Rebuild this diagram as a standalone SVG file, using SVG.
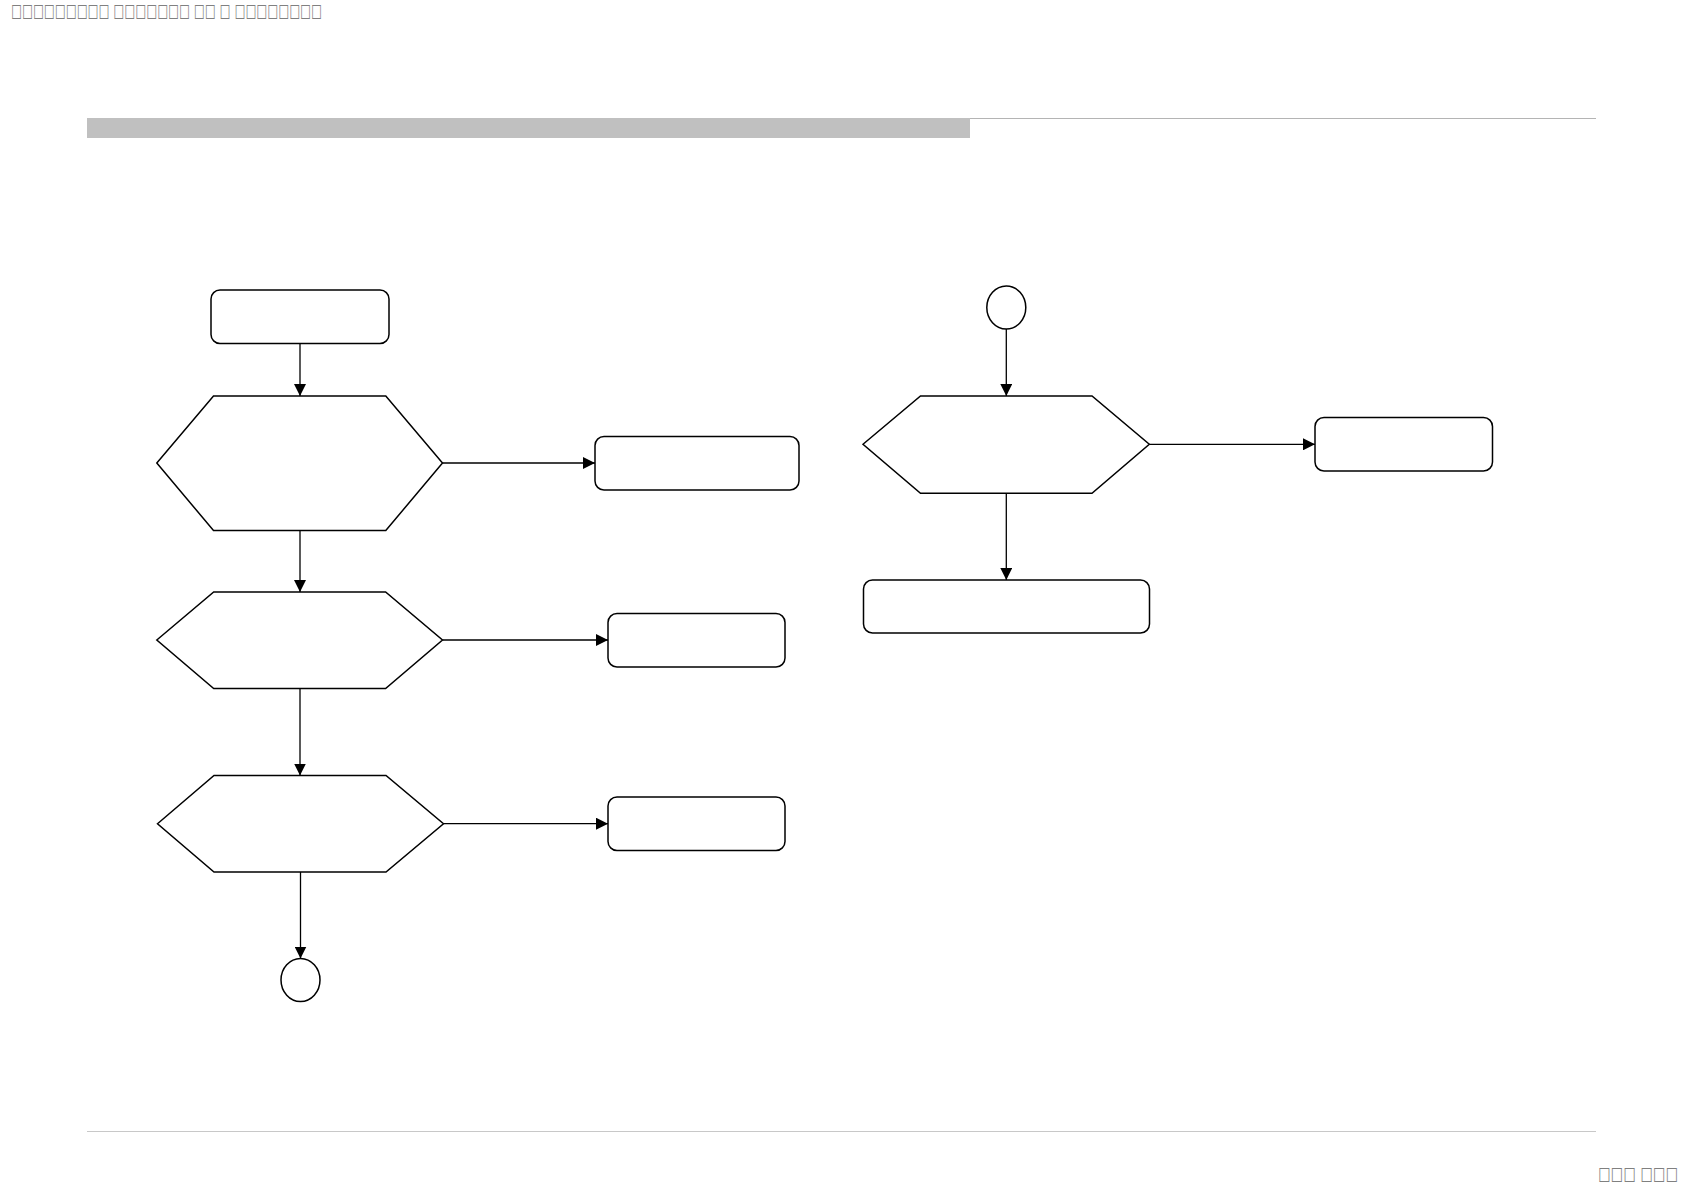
<svg xmlns="http://www.w3.org/2000/svg" width="1684" height="1191" viewBox="0 0 1684 1191">
<style>
.node{fill:#ffffff;stroke:#000000;stroke-width:1.5}
.conn{fill:none;stroke:#000000;stroke-width:1.3}
.hdr{font-family:"DejaVu Sans","Liberation Sans",sans-serif;font-size:19px;fill:#808080}
</style>
<defs>
<marker id="arr" viewBox="0 0 12 12" refX="12" refY="6" markerWidth="12" markerHeight="12" markerUnits="userSpaceOnUse" orient="auto">
<path d="M0,0 L12,6 L0,12 Z" fill="#000000"/>
</marker>
</defs>
<rect width="1684" height="1191" fill="#ffffff"/>
<g id="header">
<rect x="87" y="118" width="883" height="20" fill="#c0c0c0"/>
<line x1="970" y1="118.5" x2="1596" y2="118.5" stroke="#b4b4b4" stroke-width="1.2"/>
<line x1="87" y1="1131.5" x2="1596" y2="1131.5" stroke="#c8c8c8" stroke-width="1"/>
<text class="hdr" x="11" y="19" textLength="311" lengthAdjust="spacingAndGlyphs">☐☐☐☐☐☐☐☐☐ ☐☐☐☐☐☐☐ ☐☐ ☐ ☐☐☐☐☐☐☐☐</text>
<text class="hdr" x="1678" y="1182" text-anchor="end" textLength="80" lengthAdjust="spacingAndGlyphs">☐☐☐ ☐☐☐</text>
</g>
<g id="connectors">
<line class="conn" x1="300" y1="343.5" x2="300" y2="396" marker-end="url(#arr)"/>
<line class="conn" x1="442.5" y1="463" x2="595" y2="463" marker-end="url(#arr)"/>
<line class="conn" x1="300" y1="530.5" x2="300" y2="592" marker-end="url(#arr)"/>
<line class="conn" x1="442.5" y1="640" x2="608" y2="640" marker-end="url(#arr)"/>
<line class="conn" x1="300" y1="688.5" x2="300" y2="775.5" marker-end="url(#arr)"/>
<line class="conn" x1="443.5" y1="823.7" x2="608" y2="823.7" marker-end="url(#arr)"/>
<line class="conn" x1="300.5" y1="872" x2="300.5" y2="958.5" marker-end="url(#arr)"/>
<line class="conn" x1="1006.3" y1="329" x2="1006.3" y2="396" marker-end="url(#arr)"/>
<line class="conn" x1="1149.3" y1="444.3" x2="1315" y2="444.3" marker-end="url(#arr)"/>
<line class="conn" x1="1006.3" y1="493.3" x2="1006.3" y2="580" marker-end="url(#arr)"/>
</g>
<g id="start">
<rect class="node" x="211" y="290" width="178" height="53.5" rx="9"/>
</g>
<g id="decision1">
<polygon class="node" points="156.8,463 213.5,396 385.8,396 442.5,463 385.8,530.5 213.5,530.5"/>
</g>
<g id="box1">
<rect class="node" x="595" y="436.5" width="204" height="53.5" rx="9"/>
</g>
<g id="decision2">
<polygon class="node" points="156.8,640 213.7,592 385.6,592 442.5,640 385.6,688.5 213.7,688.5"/>
</g>
<g id="box2">
<rect class="node" x="608" y="613.5" width="177" height="53.5" rx="9"/>
</g>
<g id="decision3">
<polygon class="node" points="157.5,823.7 214,775.5 386,775.5 443.5,823.7 386,872 214,872"/>
</g>
<g id="box3">
<rect class="node" x="608" y="797" width="177" height="53.5" rx="9"/>
</g>
<g id="end">
<ellipse class="node" cx="300.5" cy="980" rx="19.5" ry="21.5"/>
</g>
<g id="connector-in">
<ellipse class="node" cx="1006.3" cy="307.5" rx="19.5" ry="21.5"/>
</g>
<g id="decision4">
<polygon class="node" points="863,444.3 920.5,396 1092,396 1149.3,444.3 1092,493.3 920.5,493.3"/>
</g>
<g id="box4">
<rect class="node" x="1315" y="417.5" width="177.5" height="53.5" rx="9"/>
</g>
<g id="box5">
<rect class="node" x="863.5" y="580" width="286" height="53" rx="9"/>
</g>
</svg>
